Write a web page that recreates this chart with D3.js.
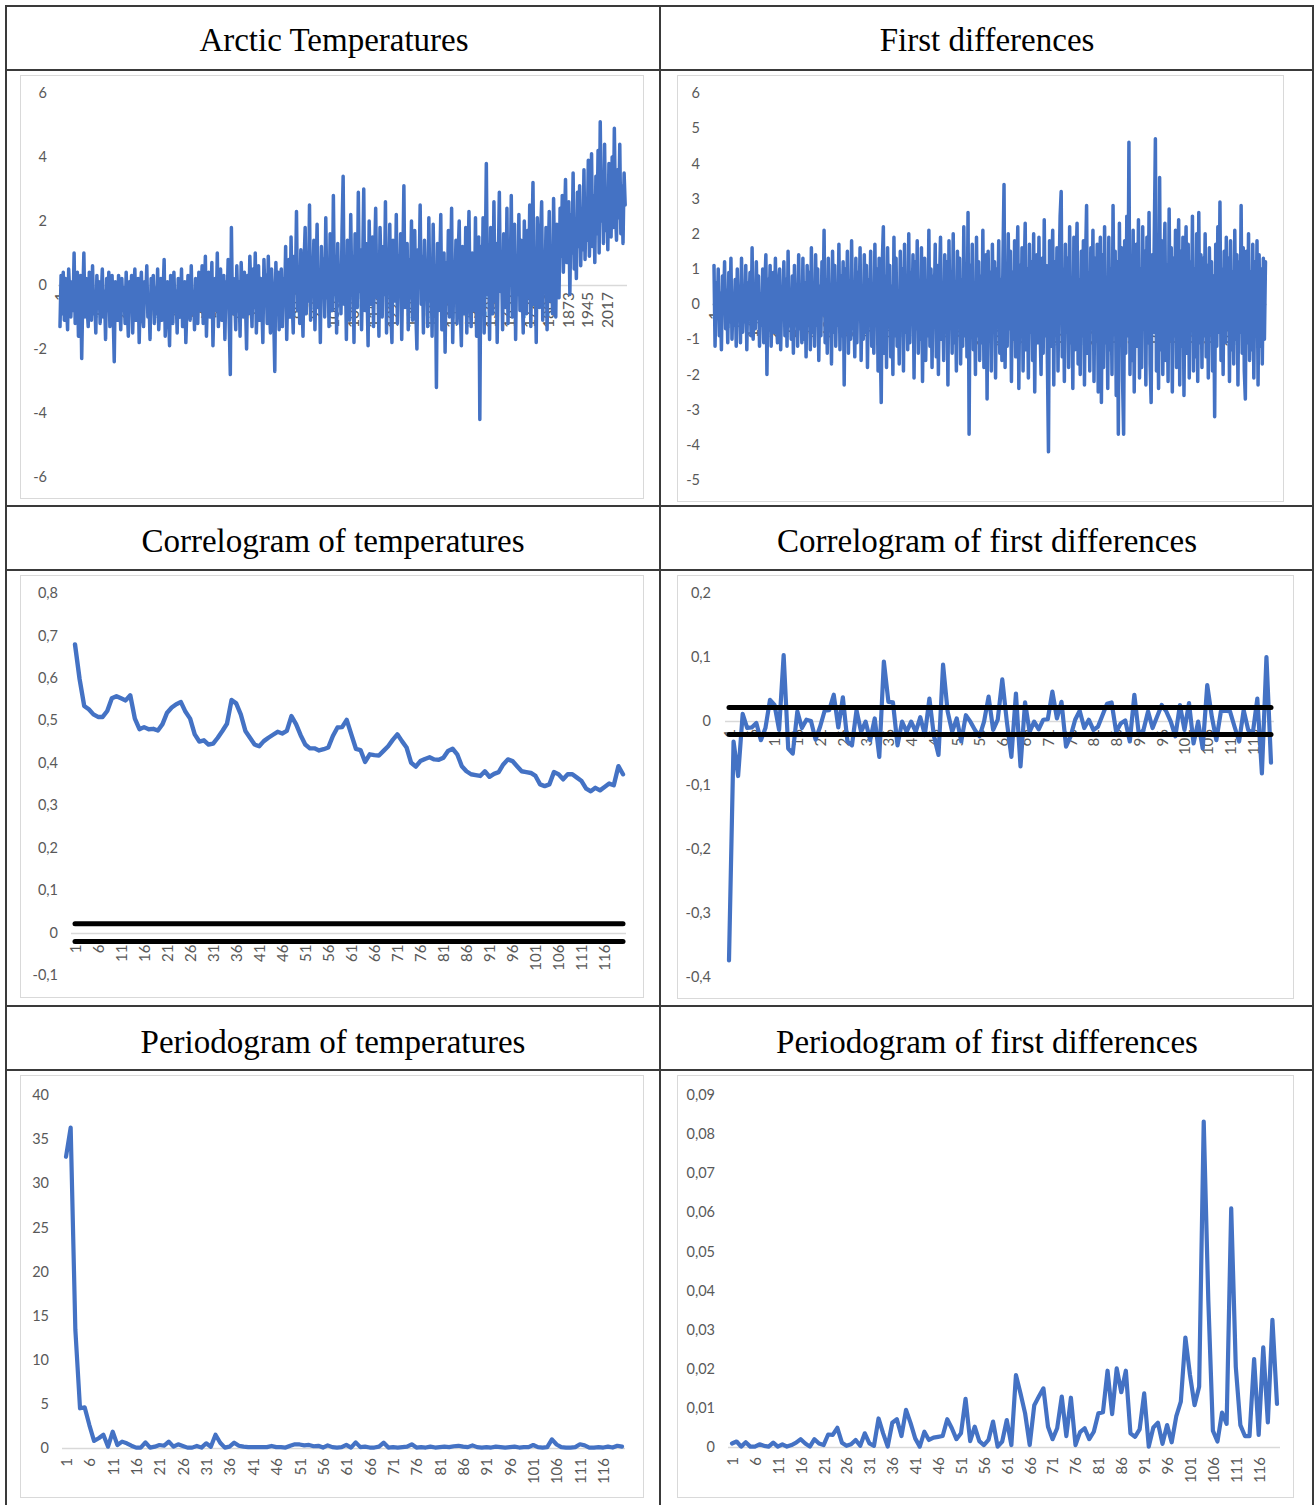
<!DOCTYPE html>
<html><head><meta charset="utf-8">
<script src="https://cdn.jsdelivr.net/npm/d3@7"></script>
<style>body{margin:0;background:#fff}svg{display:block}</style>
</head><body>
<svg id="c" width="1315" height="1505"></svg>
<script>
// ---------------- DATA ----------------
const panelTitles = ["Arctic Temperatures","First differences","Correlogram of temperatures","Correlogram of first differences","Periodogram of temperatures","Periodogram of first differences"];

// monthly temperature anomalies (every 4th month)
const tempValues = [
-1.3,0.3,-0.9,0.4,-1.1,0.2,-0.6,-1.4,0.5,-0.3,-1.0,0.1,-0.8,1.0,-1.2,-0.2,0.4,-1.6,-0.5,0.3,
-2.3,-0.4,1.0,-1.0,0.2,-0.7,-1.3,0.4,-0.2,-1.1,0.6,-0.9,-0.3,-1.5,0.3,-0.6,0.1,-1.2,-0.4,0.5,
-1.0,-0.2,-1.7,0.2,-0.8,0.4,-1.3,-0.5,0.3,-0.9,-2.4,0.1,-0.6,-1.1,0.3,-0.4,-1.4,0.2,-0.8,-0.1,
-1.2,0.4,-0.7,-1.6,0.1,
-0.5,0.3,-1.5,-0.2,0.5,-1.1,-0.6,0.2,-1.8,-0.3,0.4,-0.9,-1.3,0.1,-0.5,0.6,-1.0,-0.4,-1.7,0.2,
-0.7,0.3,-1.2,-0.1,-0.9,0.5,-1.4,-0.6,0.2,-1.1,-0.3,0.8,-1.6,-0.5,0.1,-0.9,-1.9,0.3,-0.4,-1.2,
0.4,-0.8,-0.2,-1.5,0.2,-0.6,-1.0,0.5,-1.3,-0.3,0.1,-1.8,-0.7,0.3,-0.5,-1.1,0.6,-0.9,-0.2,-1.4,
0.2,-0.6,-1.2,0.4,-0.8,
-0.3,0.6,-1.2,-0.5,0.9,-1.6,-0.2,0.4,-1.0,-0.6,0.7,-1.9,-0.4,0.2,-0.8,1.0,-1.3,-0.1,0.5,-1.1,
-0.5,0.3,-1.7,0.1,-0.7,0.8,-1.2,-2.8,1.8,-0.9,0.2,-0.4,-1.4,0.6,-0.8,0.1,-1.6,0.7,-0.3,-1.0,
0.4,-0.6,-2.0,0.3,-0.9,0.9,-0.2,-1.3,0.5,-0.7,1.0,-1.5,-0.3,0.6,-1.1,0.2,-0.5,-1.8,0.8,-0.4,
0.3,-1.2,0.9,-0.6,-1.5,0.5,-0.2,-1.0,-2.7,0.7,-0.8,0.4,-1.4,0.2,
0.5,-1.3,0.2,-0.6,1.2,-1.7,0.0,0.8,-1.0,1.5,-0.4,-1.5,0.9,-0.2,2.3,-0.8,0.4,-1.2,1.1,-0.3,
-1.6,0.7,1.8,-0.9,0.3,-0.5,2.5,-1.1,0.6,-0.2,1.4,-1.4,0.1,1.9,-0.7,0.4,-1.8,1.2,-0.1,0.8,
-1.0,2.1,-0.4,0.5,-1.3,1.6,0.0,-0.8,2.8,-0.3,0.9,-1.5,1.3,-0.5,0.6,
-0.9,1.7,3.4,-0.6,0.8,-1.7,1.4,0.2,-1.1,2.2,-0.3,0.9,-1.8,1.6,0.4,-0.7,2.9,-0.2,1.1,-1.4,
0.6,3.0,-0.8,1.3,-0.1,-1.9,2.0,0.3,-0.6,1.5,-1.3,0.8,2.4,-0.4,0.2,-1.6,1.8,0.5,-1.0,1.2,
-0.3,2.6,-1.5,0.7,0.1,1.9,-0.9,-1.8,1.4,0.4,-0.5,2.2,-1.2,0.9,-0.2,1.6,-1.7,0.6,3.1,-0.7,
0.3,1.3,-1.4,0.8,-0.4,2.0,-1.1,0.5,1.7,-0.8,-2.0,1.1,0.2,2.5,-0.6,0.9,-1.5,1.4,-0.1,0.7,-1.3,2.1,-0.5,
0.8,-1.6,1.9,-0.2,0.6,-3.2,1.3,-0.8,0.4,2.2,-1.4,0.1,1.0,-2.1,0.7,-0.5,1.7,-1.0,0.3,2.4,
-1.8,0.5,-0.3,1.4,-1.2,0.9,2.0,-0.7,-1.9,1.2,0.2,-0.9,1.8,-1.5,0.6,2.3,-0.4,-1.3,1.0,0.1,-0.8,2.1,-1.6,0.5,1.5,-4.2,
1.2,-0.8,2.1,-1.5,0.6,3.8,-0.3,1.0,-1.7,1.8,0.2,-0.9,2.6,-0.5,1.3,-1.8,0.7,2.9,-0.2,0.9,
-1.4,1.6,0.3,-0.7,2.4,-1.2,1.1,0.0,2.8,-1.0,0.5,1.9,-1.7,0.8,-0.3,2.2,-0.8,1.4,0.1,-1.5,
2.0,0.6,-0.9,1.7,-0.4,2.5,-1.3,1.2,3.2,-0.6,0.8,-1.8,2.1,0.3,-0.7,1.5,2.6,-1.1,0.9,-0.2,
1.8,-1.4,0.7,2.3,-0.5,1.1,-0.9,2.7,0.4,-1.0,1.9,0.2,-0.4,2.4,
0.9,2.8,0.4,1.9,3.3,0.7,1.5,2.6,-0.3,2.2,1.0,3.5,0.5,1.8,0.2,2.9,1.2,3.1,0.6,2.4,
1.1,3.6,0.8,2.7,1.4,3.9,0.9,2.3,4.1,1.2,2.8,0.7,3.4,1.6,4.2,1.0,5.1,2.0,3.2,1.3,
4.4,1.7,3.0,1.1,3.8,2.2,1.5,4.0,1.8,4.9,2.4,1.4,3.6,2.1,4.4,1.6,3.1,1.3,3.5,2.5
];

// first differences (every 4th month)
const diffValues = [
1.1,-1.2,0.6,-0.4,1.0,-0.9,0.3,-1.3,0.8,-0.2,1.2,-0.7,0.4,-1.1,0.9,-0.5,1.3,-1.0,0.2,-0.6,
0.7,-1.2,1.0,-0.3,0.5,-1.1,1.3,-0.8,0.1,-0.5,1.1,-1.3,0.6,-0.2,0.9,-0.9,1.6,-1.0,0.4,-0.7,
1.2,-0.4,0.8,-1.2,0.3,-0.6,1.0,-1.1,0.5,1.4,-2.0,0.7,-0.3,1.1,-1.2,0.2,0.9,-0.8,1.3,-0.5,
-1.1,0.6,1.0,-1.3,0.4,-0.2,1.2,-0.9,0.7,-1.2,1.5,-0.6,0.3,-1.0,0.8,-1.4,1.1,-0.3,0.5,-1.2,1.4,-0.7,0.2,-1.1,
1.3,-1.0,0.6,-1.5,1.1,-0.4,0.9,-1.3,1.6,-0.8,0.2,-1.2,1.4,-0.6,1.0,-1.6,0.5,-0.9,1.2,-0.3,
2.1,-1.1,0.7,-1.4,1.3,-0.5,0.4,-1.7,1.5,-0.8,1.1,-1.2,0.3,-0.6,1.7,-1.3,0.8,-0.9,1.2,-2.3,
1.0,-0.4,1.5,-1.4,0.6,-1.0,1.8,-0.7,0.2,-1.5,1.3,-1.1,0.9,-0.3,1.6,-1.6,0.5,-1.0,1.4,-0.8,
1.1,-1.8,0.7,-0.5,1.5,-1.2,0.4,-1.4,1.7,-0.6,1.0,-1.9,1.3,-0.9,-2.8,
1.2,2.2,-1.4,0.8,-1.8,1.6,-0.6,1.1,-1.5,0.5,-2.0,1.9,-0.9,1.3,-1.2,0.3,-1.7,1.5,-0.4,1.0,
-1.9,1.7,-0.8,0.6,-1.3,2.0,-1.1,0.9,-0.5,1.4,-2.1,1.2,-0.7,1.8,-1.4,0.4,-1.0,1.6,-2.2,0.7,
1.3,-1.6,0.5,-0.9,2.1,-1.2,1.0,-1.8,0.8,-0.3,1.7,-1.5,1.1,-2.0,0.6,1.9,-1.0,0.2,-1.6,1.4,
-0.8,1.2,-2.3,1.8,-0.6,0.9,-1.4,2.0,-1.1,0.4,-1.9,1.5,-0.5,1.3,-1.7,0.7,-1.2,2.2,-0.9,1.0,
-1.5,2.6,-3.7,1.1,-0.7,1.7,-1.3,0.5,-2.0,1.9,-0.9,1.2,-1.6,0.8,-1.1,2.1,-1.8,0.6,1.4,-2.7,
1.5,-1.0,0.9,-1.9,1.7,-0.6,1.2,-2.1,1.0,-0.4,1.8,-1.4,0.7,
-1.6,1.3,3.4,-1.8,0.8,-1.2,2.0,-0.7,1.5,-2.2,0.9,-1.0,1.8,-1.5,0.6,2.2,-2.4,1.1,-0.5,1.6,
-1.9,0.7,2.3,-1.3,1.0,-2.1,1.7,-0.8,1.2,-1.6,2.0,-2.5,0.5,1.4,-1.1,1.9,-0.6,-2.0,1.3,-1.4,
2.4,-0.9,1.1,-1.7,-4.2,1.8,-1.2,0.9,2.1,-2.3,1.2,-0.7,1.6,-1.9,0.8,2.5,3.2,-1.5,1.0,-2.2,
1.7,-0.8,1.3,-1.8,2.2,-1.1,0.6,-2.4,1.9,-1.3,1.0,2.3,-1.7,0.7,-2.0,1.5,-0.9,1.8,-2.3,1.2,
2.8,-1.4,0.9,-1.9,1.6,-0.6,2.1,-2.2,1.3,-1.0,1.7,-2.5,0.8,1.9,-2.8,
1.4,-1.8,2.2,-1.1,0.7,-2.4,1.9,-1.3,1.0,-2.0,2.8,-0.8,1.5,-2.6,1.2,-3.7,2.3,-1.0,1.6,-2.2,
-3.7,1.8,-1.4,2.5,-0.9,4.6,-2.0,1.3,-1.6,2.1,-2.5,0.9,1.7,-1.2,2.4,-2.1,1.0,-1.8,2.2,-0.7,
1.5,-2.3,1.9,-1.1,2.6,-1.7,-2.8,1.4,-0.8,2.0,4.7,-1.9,1.2,-2.4,3.6,-1.3,1.8,-2.0,0.9,2.3,
-1.6,1.1,-2.2,2.7,-1.0,1.6,-2.5,1.3,-0.9,2.1,-1.8,1.0,2.4,-2.3,1.5,-1.2,1.9,-2.6,0.8,2.2,
-1.4,1.7,-2.1,1.2,-0.7,2.5,-1.9,1.0,-1.5,2.0,-2.2,2.6,-1.1,1.4,
-1.8,1.3,-0.9,2.0,-1.5,1.1,-2.1,1.6,-0.6,1.2,-1.9,0.8,-3.2,1.7,-1.2,2.2,-0.8,2.9,-1.6,1.0,
-2.0,1.5,-1.1,1.9,-0.7,1.3,-2.2,1.8,-1.3,0.9,-1.7,2.1,-1.0,1.4,-2.3,1.2,-0.8,2.8,-1.4,1.6,
-1.9,-2.7,1.5,-1.1,2.0,-1.6,0.9,-1.3,1.7,-2.1,1.2,-0.9,1.8,-2.3,1.4,-1.2,1.0,-1.7,1.3,-1.0,1.2
];
const monthStep = 4;

// autocorrelations, lags 1..120
const acfTemp = [
0.679,0.597,0.534,0.526,0.514,0.508,0.508,0.522,0.552,0.557,0.552,0.547,0.559,0.504,0.479,0.484,0.479,0.480,0.476,0.491,
0.518,0.530,0.538,0.543,0.520,0.504,0.467,0.450,0.453,0.443,0.445,0.459,0.475,0.492,0.548,0.540,0.514,0.475,0.459,0.443,
0.439,0.451,0.459,0.466,0.473,0.469,0.475,0.510,0.491,0.465,0.443,0.434,0.434,0.429,0.432,0.436,0.463,0.483,0.484,0.501,
0.467,0.433,0.430,0.402,0.420,0.418,0.417,0.428,0.439,0.454,0.467,0.451,0.436,0.400,0.391,0.404,0.409,0.413,0.408,0.407,
0.412,0.428,0.433,0.420,0.392,0.380,0.373,0.371,0.369,0.380,0.367,0.374,0.378,0.396,0.408,0.404,0.392,0.380,0.378,0.376,
0.369,0.349,0.345,0.349,0.378,0.373,0.361,0.373,0.373,0.365,0.357,0.339,0.333,0.341,0.335,0.343,0.351,0.347,0.392,0.373
];
const acfDiff = [
-0.374,-0.032,-0.086,0.011,-0.011,-0.010,-0.003,-0.030,-0.011,0.033,0.025,-0.014,0.103,-0.043,-0.051,0.015,-0.011,0.002,0.000,-0.029,
-0.009,0.016,0.017,0.041,-0.010,0.037,-0.032,-0.038,0.017,-0.017,-0.001,-0.030,0.004,-0.056,0.093,0.030,0.029,-0.038,-0.001,-0.017,
-0.001,-0.017,0.006,-0.022,0.035,-0.024,-0.053,0.088,0.015,-0.017,0.004,-0.032,0.009,-0.001,-0.014,-0.024,-0.001,0.038,-0.014,0.002,
0.065,-0.001,-0.056,0.043,-0.071,0.029,-0.017,-0.001,-0.013,0.002,0.003,0.046,0.004,0.030,-0.040,-0.024,0.002,0.016,-0.011,0.002,
-0.014,-0.009,0.009,0.027,0.029,-0.017,-0.004,0.001,-0.032,0.041,-0.022,-0.014,0.015,-0.011,0.007,0.025,0.015,-0.001,-0.024,0.025,
-0.014,0.028,-0.035,-0.001,-0.043,0.056,0.007,-0.030,0.015,0.016,0.015,-0.009,-0.032,0.017,-0.014,-0.019,0.035,-0.082,0.100,-0.065
];
const confLimit = 0.021;

// periodograms, frequencies 1..120
const perTemp = [
33.0,36.3,13.4,4.5,4.6,2.6,0.8,1.1,1.5,0.15,1.85,0.34,0.72,0.53,0.26,0.04,0.04,0.64,0.04,0.15,
0.34,0.26,0.72,0.15,0.42,0.23,0.04,0.04,0.23,0.04,0.53,0.15,1.5,0.6,0.04,0.15,0.6,0.26,0.15,0.1,
0.1,0.1,0.1,0.1,0.23,0.1,0.1,0.05,0.26,0.42,0.4,0.3,0.35,0.2,0.25,0.05,0.3,0.1,0.05,0.1,
0.35,0.05,0.64,0.1,0.15,0.05,0.05,0.15,0.6,0.05,0.1,0.05,0.1,0.15,0.42,0.05,0.1,0.05,0.15,0.05,
0.1,0.15,0.1,0.2,0.25,0.15,0.1,0.3,0.1,0.05,0.1,0.05,0.15,0.1,0.05,0.1,0.15,0.05,0.1,0.1,
0.34,0.1,0.05,0.1,0.98,0.4,0.1,0.05,0.05,0.1,0.42,0.3,0.05,0.05,0.1,0.05,0.15,0.05,0.25,0.15
];
const perDiff = [
0.0009,0.0014,0.0001,0.0012,0.0001,0.0001,0.0007,0.0003,0.0001,0.0011,0.0001,0.0007,0.0001,0.0005,0.0011,0.0020,0.0009,0.0001,0.0020,0.0009,
0.0005,0.0032,0.0031,0.0049,0.0011,0.0003,0.0007,0.0018,0.0003,0.0035,0.0009,0.0003,0.0073,0.0035,0.0001,0.0062,0.0071,0.0028,0.0095,0.0061,
0.0022,0.0001,0.0039,0.0018,0.0024,0.0026,0.0028,0.0071,0.0048,0.0020,0.0035,0.0123,0.0015,0.0052,0.0015,0.0005,0.0018,0.0065,0.0001,0.0014,
0.0069,0.0005,0.0184,0.0137,0.0086,0.0005,0.0107,0.0129,0.0150,0.0052,0.0020,0.0048,0.0129,0.0028,0.0126,0.0005,0.0038,0.0048,0.0020,0.0039,
0.0086,0.0089,0.0195,0.0084,0.0201,0.0140,0.0195,0.0035,0.0026,0.0045,0.0137,0.0001,0.0050,0.0062,0.0008,0.0056,0.0012,0.0078,0.0116,0.0280,
0.0184,0.0107,0.0154,0.0832,0.0376,0.0042,0.0014,0.0088,0.0059,0.0610,0.0205,0.0056,0.0028,0.0028,0.0225,0.0031,0.0255,0.0063,0.0325,0.0110
];

// tick labels
const monthTickLabels = [1,73,145,217,289,361,433,505,577,649,721,793,865,937,1009,1081,1153,1225,1297,1369,1441,1513,1585,1657,1729,1801,1873,1945,2017];
const lagTickLabels = [1,6,11,16,21,26,31,36,41,46,51,56,61,66,71,76,81,86,91,96,101,106,111,116];
const tempYTicks = [-6,-4,-2,0,2,4,6];
const diffYTicks = [-5,-4,-3,-2,-1,0,1,2,3,4,5,6];
const acfTempYTicks = [-0.1,0,0.1,0.2,0.3,0.4,0.5,0.6,0.7,0.8];
const acfDiffYTicks = [-0.4,-0.3,-0.2,-0.1,0,0.1,0.2];
const perTempYTicks = [0,5,10,15,20,25,30,35,40];
const perDiffYTicks = [0,0.01,0.02,0.03,0.04,0.05,0.06,0.07,0.08,0.09];

// ---------------- DRAWING ----------------
const svg = d3.select("#c");
const BLUE = "#4472C4", GRAY = "#595959", LIGHT = "#d9d9d9";
const FONT = "Lato, 'Open Sans', sans-serif";
const fmt = d => { if (Math.abs(d) < 1e-12) return "0"; return String(+d.toFixed(4)).replace(".", ","); };

function drawChart(c) {
  const g = svg.append("g");
  g.append("rect").attr("x", c.box[0] + 0.5).attr("y", c.box[1] + 0.5)
    .attr("width", c.box[2] - c.box[0]).attr("height", c.box[3] - c.box[1])
    .attr("fill", "none").attr("stroke", LIGHT).attr("stroke-width", 1);
  const x = d3.scaleLinear().domain(c.xDomain).range(c.xRange);
  const y = d3.scaleLinear().domain(c.yDomain).range(c.yRange);

  const ya = g.append("g").attr("transform", `translate(${c.yLabelRight},0)`)
    .call(d3.axisLeft(y).tickValues(c.yTicks).tickSize(0).tickPadding(0).tickFormat(fmt));
  ya.select(".domain").remove();
  ya.selectAll("text").attr("fill", GRAY).style("font-family", FONT).style("font-size", "14.5px");

  g.append("line").attr("x1", c.axisX[0]).attr("x2", c.axisX[1])
    .attr("y1", Math.round(y(0)) + 0.5).attr("y2", Math.round(y(0)) + 0.5)
    .attr("stroke", LIGHT).attr("stroke-width", 1.5);

  const xa = g.append("g").attr("transform", `translate(0,${y(0)})`)
    .call(d3.axisBottom(x).tickValues(c.xTicks).tickSize(0).tickFormat(d => d));
  xa.select(".domain").remove();
  xa.selectAll("text").attr("transform", "rotate(-90)").attr("text-anchor", "end")
    .attr("x", -c.labelGap).attr("y", 0).attr("dy", "0.36em")
    .attr("fill", GRAY).style("font-family", FONT).style("font-size", c.xFont || "15px");

  const pts = c.values.map((v, i) => [c.cats[i], v]);
  g.append("path").datum(pts)
    .attr("d", d3.line().x(d => x(d[0])).y(d => y(d[1])))
    .attr("fill", "none").attr("stroke", BLUE).attr("stroke-width", c.lw)
    .attr("stroke-linejoin", "round").attr("stroke-linecap", "round");

  if (c.band) {
    [c.band, -c.band].forEach(b => {
      g.append("line").attr("x1", x(c.xDomain[0])).attr("x2", x(c.xDomain[1]))
        .attr("y1", y(b)).attr("y2", y(b))
        .attr("stroke", "#000").attr("stroke-width", 5).attr("stroke-linecap", "round");
    });
  }
}

const monthCats = arr => arr.map((_, i) => 1 + monthStep * i);
const lagCats = arr => arr.map((_, i) => i + 1);

drawChart({ box:[20,75,643,498], values: tempValues, cats: monthCats(tempValues),
  xDomain:[1,2088], xRange:[60,626], yDomain:[-6,6], yRange:[477,93], yTicks: tempYTicks,
  xTicks: monthTickLabels, yLabelRight: 47, axisX:[58,627], labelGap: 7, lw: 3.5, xFont: "15.5px" });
drawChart({ box:[677,75,1283,501], values: diffValues, cats: monthCats(diffValues),
  xDomain:[1,2087], xRange:[714,1266], yDomain:[-5,6], yRange:[480,93], yTicks: diffYTicks,
  xTicks: monthTickLabels, yLabelRight: 700, axisX:[712,1267], labelGap: 7, lw: 3.5, xFont: "15.5px" });
drawChart({ box:[20,575,643,997], values: acfTemp, cats: lagCats(acfTemp),
  xDomain:[1,120], xRange:[75,623], yDomain:[-0.1,0.8], yRange:[975,593], yTicks: acfTempYTicks,
  xTicks: lagTickLabels, yLabelRight: 58, axisX:[71,626], labelGap: 12, lw: 4.4, band: confLimit });
drawChart({ box:[677,575,1293,998], values: acfDiff, cats: lagCats(acfDiff),
  xDomain:[1,120], xRange:[729,1271], yDomain:[-0.4,0.2], yRange:[977,593], yTicks: acfDiffYTicks,
  xTicks: lagTickLabels, yLabelRight: 711, axisX:[725,1274], labelGap: 8, lw: 4.2, band: confLimit });
drawChart({ box:[20,1075,643,1497], values: perTemp, cats: lagCats(perTemp),
  xDomain:[1,120], xRange:[66,622], yDomain:[0,40], yRange:[1448,1095], yTicks: perTempYTicks,
  xTicks: lagTickLabels, yLabelRight: 49, axisX:[62,625], labelGap: 10, lw: 4.2 });
drawChart({ box:[677,1075,1293,1497], values: perDiff, cats: lagCats(perDiff),
  xDomain:[1,120], xRange:[732,1277], yDomain:[0,0.09], yRange:[1447,1095], yTicks: perDiffYTicks,
  xTicks: lagTickLabels, yLabelRight: 715, axisX:[728,1280], labelGap: 10, lw: 4.2 });

// table grid
const T = svg.append("g").attr("stroke", "#3a3a3a").attr("stroke-width", 2);
[6, 660, 1313].forEach(xv => T.append("line").attr("x1", xv).attr("x2", xv).attr("y1", 5).attr("y2", 1505));
[6, 70, 506, 570, 1006, 1070].forEach(yv => T.append("line").attr("x1", 5).attr("x2", 1314).attr("y1", yv).attr("y2", yv));

// titles
const titlePos = [[334,39],[987,39],[333,540],[987,540],[333,1041],[987,1041]];
panelTitles.forEach((t, i) => {
  svg.append("text").attr("x", titlePos[i][0]).attr("y", titlePos[i][1]).attr("dy", "0.35em")
    .attr("text-anchor", "middle").attr("fill", "#000")
    .style("font-family", "'Liberation Serif', 'Times New Roman', serif").style("font-size", "33px")
    .text(t);
});
</script>
</body></html>
